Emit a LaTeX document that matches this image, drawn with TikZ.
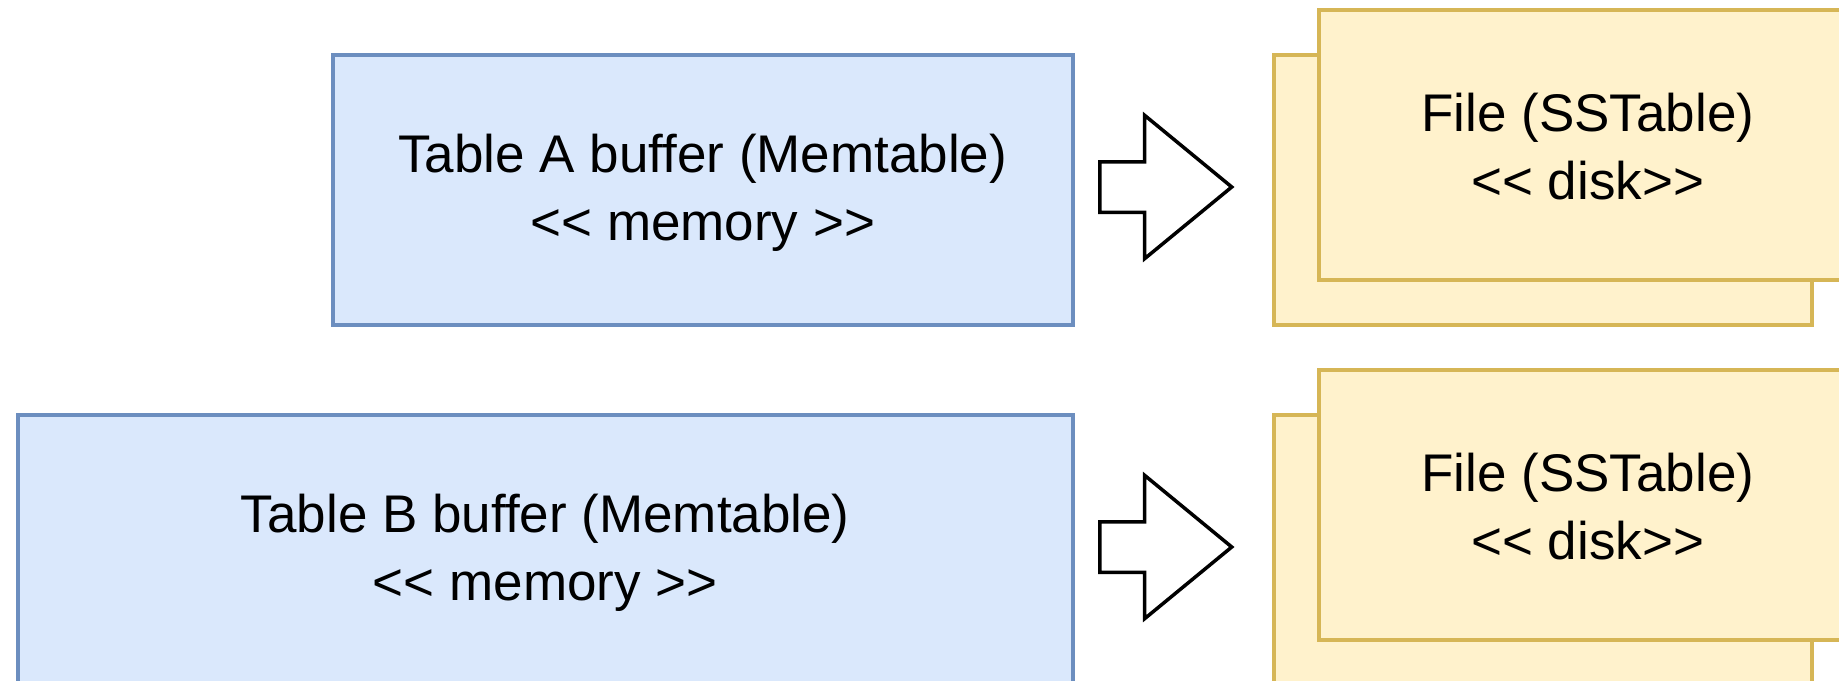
\documentclass[tikz,border=0pt]{standalone}
\usepackage{fontspec}
\newfontfamily\lblfont{Liberation Sans}
\usetikzlibrary{shapes.arrows}
\definecolor{memfill}{HTML}{DAE8FC}
\definecolor{memline}{HTML}{6C8EBF}
\definecolor{diskfill}{HTML}{FFF2CC}
\definecolor{diskline}{HTML}{D6B656}
\tikzset{
  membox/.style={draw=memline, fill=memfill, line width=3.5pt, rectangle, anchor=north west, minimum height=270pt, inner sep=0pt},
  diskbox/.style={draw=diskline, fill=diskfill, line width=3.5pt, rectangle, anchor=north west, minimum width=538pt, minimum height=270pt, inner sep=0pt},
  lbl/.style={font=\lblfont\fontsize{53}{68}\selectfont, align=center, inner sep=0pt},
  blockarrow/.style={shape=single arrow, draw=black, fill=white, line width=3.5pt, inner xsep=0pt, inner ysep=23.5pt, minimum height=132pt, single arrow head extend=46.5pt, single arrow tip angle=78.9, anchor=tail, shape border rotate=0}
}
\begin{document}
\begin{tikzpicture}[x=1pt,y=-1pt]
\useasboundingbox (0,0) rectangle (1839,680);
% top row
\node[membox, minimum width=740pt] (tabA) at (331,53) {};
\node[lbl] (tabAtext) at ([yshift=-3pt]tabA.center) {Table A buffer (Memtable)\\<< memory >>};
\node[blockarrow] (arrA) at (1098,187) {};
\node[diskbox] (fileAback) at (1272,53) {};
\node[diskbox] (fileA) at (1317,8) {};
\node[lbl] (fileAtext) at ([yshift=-2pt]fileA.center) {File (SSTable)\\<< disk>>};
% bottom row
\node[membox, minimum width=1055pt] (tabB) at (16,413) {};
\node[lbl] (tabBtext) at ([yshift=-3pt]tabB.center) {Table B buffer (Memtable)\\<< memory >>};
\node[blockarrow] (arrB) at (1098,547) {};
\node[diskbox] (fileBback) at (1272,413) {};
\node[diskbox] (fileB) at (1317,368) {};
\node[lbl] (fileBtext) at ([yshift=-2pt]fileB.center) {File (SSTable)\\<< disk>>};
\end{tikzpicture}
\end{document}
